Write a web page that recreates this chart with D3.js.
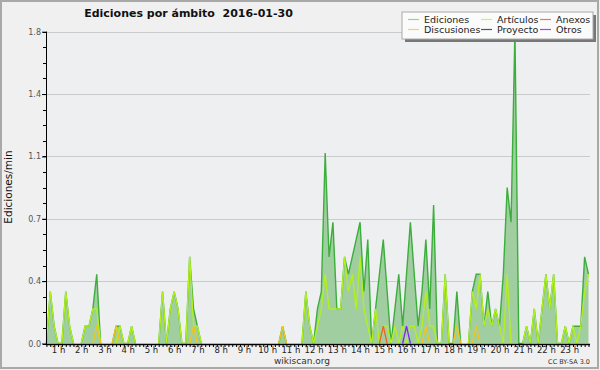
<!DOCTYPE html>
<html><head><meta charset="utf-8">
<script src="https://cdn.jsdelivr.net/npm/d3@7"></script>
<style>
html,body{margin:0;padding:0;background:#f0f0f0;}
svg{display:block;}
</style></head>
<body>
<svg id="c" width="600" height="370"></svg>
<script>
// ---- data (10-minute bins, 00:00 .. 23:20) ----
const hourLabels = ["1 h","2 h","3 h","4 h","5 h","6 h","7 h","8 h","9 h","10 h","11 h","12 h","13 h","14 h","15 h","16 h","17 h","18 h","19 h","20 h","21 h","22 h","23 h"];
const yTickValues = [0, 0.36, 0.72, 1.08, 1.44, 1.8];
const seriesNames = ["Ediciones","Discusiones","Artículos","Proyecto","Anexos","Otros"];

const ediciones = [
0,0.3,0.1,0,0,0.3,0.1,0,0,0,
0.1,0.1,0.2,0.4,0,0,0,0,0.1,0.1,
0,0,0.1,0,0,0,0,0,0,0,
0.3,0,0.2,0.3,0.2,0,0,0.5,0.2,0.1,
0,0,0,0,0,0,0,0,0,0,
0,0,0,0,0,0,0,0,0,0,
0,0.1,0,0,0,0,0,0.3,0.1,0,
0.2,0.3,1.1,0.5,0.7,0.2,0.2,0.5,0.4,0.5,
0.6,0.7,0.3,0.6,0,0.2,0.4,0.6,0.3,0,
0.2,0.4,0.1,0.4,0.7,0.4,0.1,0.3,0.6,0.2,
0.8,0,0,0.4,0,0,0.3,0,0,0,
0.3,0.4,0.4,0.1,0.3,0.1,0.2,0.1,0.4,0.9,
0.7,1.8,0,0,0.1,0,0.2,0,0.2,0.4,
0.2,0.4,0,0,0.1,0,0.1,0.1,0.1,0.5,
0.4];
const articulos = [
0,0.3,0.1,0,0,0.3,0.1,0,0,0,
0.1,0.1,0.2,0.2,0,0,0,0,0,0.1,
0,0,0.1,0,0,0,0,0,0,0,
0.3,0,0.2,0.3,0.2,0,0,0.5,0.1,0.1,
0,0,0,0,0,0,0,0,0,0,
0,0,0,0,0,0,0,0,0,0,
0,0,0,0,0,0,0,0.3,0.1,0,
0.1,0.2,0.4,0.2,0.2,0.2,0.2,0.5,0.3,0.4,
0.2,0.5,0.2,0.1,0,0.2,0,0.1,0.1,0,
0.1,0,0.1,0,0.1,0.1,0,0.1,0.3,0.1,
0.1,0,0,0.4,0,0,0,0,0,0,
0.3,0.2,0.4,0.1,0.2,0.1,0.2,0.1,0,0.4,
0,0,0,0,0.1,0,0.2,0,0.2,0.4,
0.2,0.4,0,0,0.1,0,0.1,0,0.1,0.3,
0.4];
const discusiones = [
0,0,0,0,0,0,0,0,0,0,
0,0,0,0.1,0,0,0,0,0.1,0,
0,0,0,0,0,0,0,0,0,0,
0,0,0,0,0,0,0,0,0.1,0,
0,0,0,0,0,0,0,0,0,0,
0,0,0,0,0,0,0,0,0,0,
0,0.1,0,0,0,0,0,0,0,0,
0,0,0,0,0,0,0,0,0,0,
0,0,0,0,0,0,0,0,0,0,
0,0,0,0,0,0,0,0,0.1,0,
0,0,0,0,0,0,0.1,0,0,0,
0,0.1,0,0,0,0,0,0,0,0,
0,0,0,0,0,0,0,0,0,0,
0,0,0,0,0,0,0,0,0,0,
0];
const anexos = [
0,0,0,0,0,0,0,0,0,0,
0,0,0,0,0,0,0,0,0,0,
0,0,0,0,0,0,0,0,0,0,
0,0,0,0,0,0,0,0,0,0,
0,0,0,0,0,0,0,0,0,0,
0,0,0,0,0,0,0,0,0,0,
0,0,0,0,0,0,0,0,0,0,
0,0,0,0,0,0,0,0,0,0,
0,0,0,0,0,0,0,0.1,0,0,
0,0,0,0,0,0,0,0,0,0,
0,0,0,0,0,0,0,0,0,0,
0,0,0,0,0,0,0,0,0,0,
0,0,0,0,0,0,0,0,0,0,
0,0,0,0,0,0,0,0,0,0,
0];
const otros = [
0,0,0,0,0,0,0,0,0,0,
0,0,0,0,0,0,0,0,0,0,
0,0,0,0,0,0,0,0,0,0,
0,0,0,0,0,0,0,0,0,0,
0,0,0,0,0,0,0,0,0,0,
0,0,0,0,0,0,0,0,0,0,
0,0,0,0,0,0,0,0,0,0,
0,0,0,0,0,0,0,0,0,0,
0,0,0,0,0,0,0,0,0,0,
0,0,0,0.1,0,0,0,0,0,0,
0,0,0,0,0,0,0,0,0,0,
0,0,0,0,0,0,0,0,0,0,
0,0,0,0,0,0,0,0,0,0,
0,0,0,0,0,0,0,0,0,0,
0];
const proyecto = [
0,0,0,0,0,0,0,0,0,0,
0,0,0,0,0,0,0,0,0,0,
0,0,0,0,0,0,0,0,0,0,
0,0,0,0,0,0,0,0,0,0,
0,0,0,0,0,0,0,0,0,0,
0,0,0,0,0,0,0,0,0,0,
0,0,0,0,0,0,0,0,0,0,
0,0,0,0,0,0,0,0,0,0,
0,0,0,0,0,0,0,0,0,0,
0,0,0,0,0,0,0,0,0,0,
0,0,0,0,0,0,0,0,0,0,
0,0,0,0,0,0,0,0,0,0,
0,0,0,0,0,0,0,0,0,0,
0,0,0,0,0,0,0,0,0,0,
0];

// ---- drawing ----
const svg = d3.select("#c");
const n = ediciones.length;
const x = d3.scaleLinear().domain([0, n - 1]).range([46.4, 588.5]);
const y = d3.scaleLinear().domain([0, 1.8]).range([343.5, 31.7]);

// background and frame
svg.append("rect").attr("x",0).attr("y",0).attr("width",600).attr("height",370).attr("fill","#f0f0f0");
svg.append("rect").attr("x",46).attr("y",31).attr("width",544).attr("height",313).attr("fill","#eeeff1");
svg.append("rect").attr("x",1).attr("y",1).attr("width",597).attr("height",367)
  .attr("fill","none").attr("stroke","#a9a9a9").attr("stroke-width",2);

// grid
svg.append("g").selectAll("line").data(yTickValues.slice(1)).join("line")
  .attr("x1",46).attr("x2",590).attr("y1",d=>Math.round(y(d))+0.5).attr("y2",d=>Math.round(y(d))+0.5)
  .attr("stroke","#cbcbcb").attr("stroke-width",1);

// series (segments lying flat on zero are not drawn)
const nonFlat = (d,i,arr) => d > 0 || (i > 0 && arr[i-1] > 0) || (i < arr.length-1 && arr[i+1] > 0);
const area = d3.area().x((d,i)=>x(i)).y0(y(0)).y1(d=>y(d));
const line = d3.line().defined(nonFlat).x((d,i)=>x(i)).y(d=>y(d));
svg.append("path").datum(ediciones).attr("d",area).attr("fill","#a1cea1");
svg.append("path").datum(ediciones).attr("d",line).attr("fill","none").attr("stroke","#3cae3c").attr("stroke-width",1.4);
const others = [
  {v: proyecto, c: "#555555"},
  {v: articulos, c: "#b4f01e"},
  {v: discusiones, c: "#f2c619"},
  {v: anexos, c: "#f06028"},
  {v: otros, c: "#7a28f0"}
];
others.forEach(s=>{
  svg.append("path").datum(s.v).attr("d",line).attr("fill","none").attr("stroke",s.c).attr("stroke-width",1.3);
});

// y axis
const yAxis = d3.axisLeft(y).tickValues(yTickValues).tickFormat(d3.format(".1f")).tickSize(4).tickPadding(1);
const gy = svg.append("g").attr("transform","translate(46,0)").call(yAxis);
gy.select(".domain").attr("stroke","#000").attr("d","M0.5,31.5V344.5");
gy.selectAll(".tick line").attr("stroke","#000");
gy.selectAll(".tick text").attr("font-family","DejaVu Sans, sans-serif").attr("font-size","8px").attr("fill","#555");
const minorY = d3.range(0, 1.8001, 0.09);
svg.append("g").selectAll("line").data(minorY).join("line")
  .attr("x1",43).attr("x2",46).attr("y1",d=>Math.round(y(d))+0.5).attr("y2",d=>Math.round(y(d))+0.5)
  .attr("stroke","#000");

// x axis
const xAxis = d3.axisBottom(x).tickValues(d3.range(n)).tickSize(3).tickFormat("");
const gx = svg.append("g").attr("transform","translate(0,344)").call(xAxis);
gx.select(".domain").attr("stroke","#000").attr("stroke-width",1.5).attr("d","M46,0.5H590");
gx.selectAll(".tick line").attr("stroke","#000");
const hourIdx = hourLabels.map((d,i)=>6*(i+1)-3);
const xLab = d3.axisBottom(x).tickValues(hourIdx).tickSize(0).tickPadding(0)
  .tickFormat((d,i)=>hourLabels[i]);
const gl = svg.append("g").attr("transform","translate(0,346)").call(xLab);
gl.select(".domain").remove();
gl.selectAll(".tick text").attr("font-family","DejaVu Sans, sans-serif").attr("font-size","8.5px").attr("fill","#222").attr("dy","0.8em");

// title
svg.append("text").attr("x",188.5).attr("y",17).attr("text-anchor","middle")
  .attr("font-family","DejaVu Sans, sans-serif")
  .attr("font-weight","bold").attr("font-size","11px").attr("fill","#111")
  .text("Ediciones por ámbito  2016-01-30").style("white-space","pre");

// y label
svg.append("text").attr("transform","translate(12,187) rotate(-90)").attr("text-anchor","middle")
  .attr("font-family","DejaVu Sans, sans-serif").attr("font-size","10.5px").attr("fill","#111").text("Ediciones/min");

// footer
svg.append("text").attr("x",302).attr("y",364).attr("text-anchor","middle")
  .attr("font-family","DejaVu Sans, sans-serif").attr("font-size","9px").attr("fill","#333").text("wikiscan.org");
svg.append("text").attr("x",590).attr("y",364).attr("text-anchor","end")
  .attr("font-family","DejaVu Sans, sans-serif").attr("font-size","6.5px").attr("fill","#333").text("CC BY-SA 3.0");

// legend
const lg = svg.append("g");
lg.append("rect").attr("x",405).attr("y",15).attr("width",191).attr("height",27).attr("fill","#777");
lg.append("rect").attr("x",402).attr("y",12).attr("width",191).attr("height",27).attr("fill","#fbfbfb").attr("stroke","#aaa");
const legItems = [
  {t:"Ediciones", c:"#8fd88f", col:0, row:0},
  {t:"Discusiones", c:"#f5d35a", col:0, row:1},
  {t:"Artículos", c:"#cdf25a", col:1, row:0},
  {t:"Proyecto", c:"#555555", col:1, row:1},
  {t:"Anexos", c:"#f07848", col:2, row:0},
  {t:"Otros", c:"#9b4cf0", col:2, row:1}
];
const colX = [408, 481, 540];
legItems.forEach(it=>{
  const lx = colX[it.col], ly = 19.5 + it.row*10;
  lg.append("line").attr("x1",lx).attr("x2",lx+11).attr("y1",ly).attr("y2",ly).attr("stroke",it.c).attr("stroke-width",1.2);
  lg.append("text").attr("x",lx+16).attr("y",ly+3.5).attr("font-family","DejaVu Sans, sans-serif")
    .attr("font-size","9.5px").attr("fill","#222").text(it.t);
});
</script>
</body></html>
